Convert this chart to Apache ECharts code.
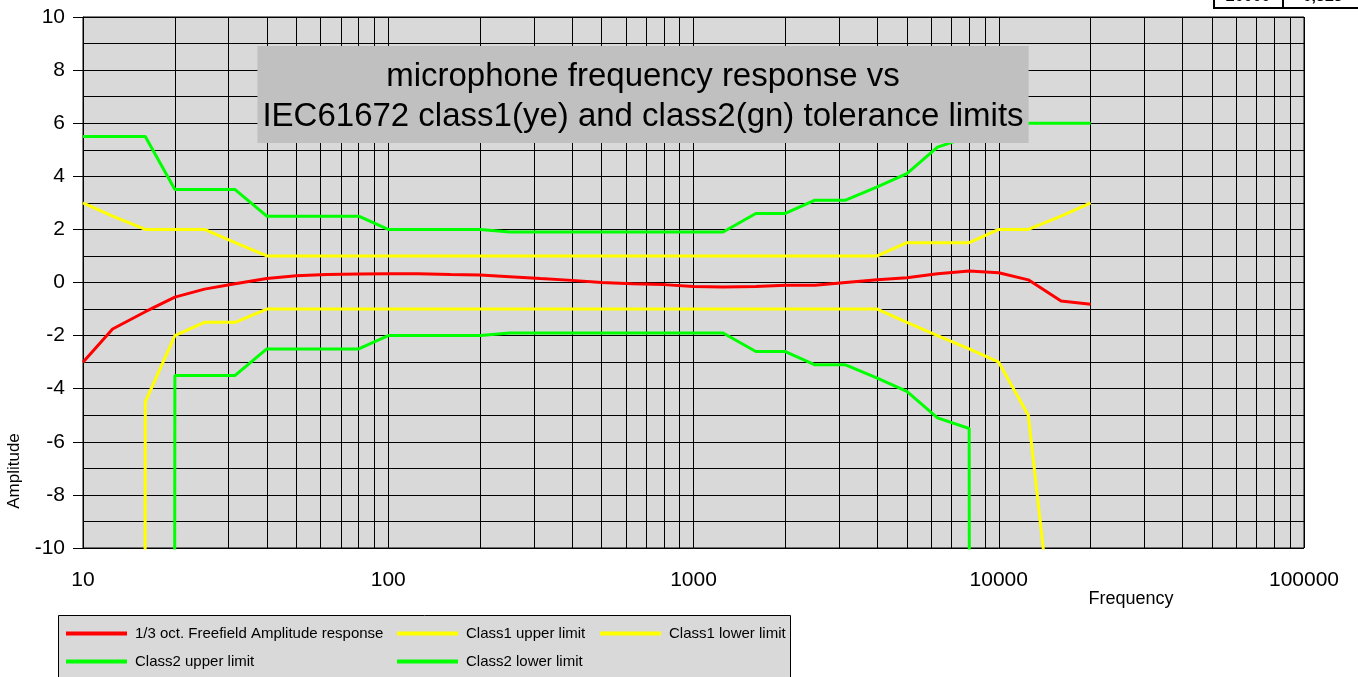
<!DOCTYPE html>
<html>
<head>
<meta charset="utf-8">
<title>microphone frequency response vs IEC61672</title>
<script src="https://cdn.jsdelivr.net/npm/echarts@6.0.0/dist/echarts.min.js"></script>
<style>
  html, body { margin: 0; padding: 0; background: #fff; }
  #main { width: 1358px; height: 677px; }
</style>
</head>
<body>
<div id="main"></div>
<script>
// 1/3 octave centre frequencies (Hz)
var freqs = [10, 12.5, 16, 20, 25, 31.5, 40, 50, 63, 80, 100, 125, 160, 200, 250, 315, 400, 500, 630, 800,
             1000, 1250, 1600, 2000, 2500, 3150, 4000, 5000, 6300, 8000, 10000, 12500, 16000, 20000];

// measured response (dB)
var response = [-3.0, -1.75, -1.1, -0.55, -0.25, -0.05, 0.15, 0.25, 0.3, 0.32, 0.33, 0.33, 0.3, 0.28, 0.22, 0.15, 0.08, 0.0, -0.05, -0.08,
                -0.15, -0.17, -0.15, -0.1, -0.1, 0.0, 0.1, 0.18, 0.33, 0.43, 0.37, 0.1, -0.7, -0.823];

// tolerance limits, -1000 stands for "minus infinity"
var class1Upper = [3, 2.5, 2, 2, 2, 1.5, 1, 1, 1, 1, 1, 1, 1, 1, 1, 1, 1, 1, 1, 1,
                   1, 1, 1, 1, 1, 1, 1, 1.5, 1.5, 1.5, 2, 2, 2.5, 3];
var class1Lower = [-1000, -1000, -4.5, -2, -1.5, -1.5, -1, -1, -1, -1, -1, -1, -1, -1, -1, -1, -1, -1, -1, -1,
                   -1, -1, -1, -1, -1, -1, -1, -1.5, -2, -2.5, -3, -5, -16, -1000];
var class2Upper = [5.5, 5.5, 5.5, 3.5, 3.5, 3.5, 2.5, 2.5, 2.5, 2.5, 2, 2, 2, 2, 1.9, 1.9, 1.9, 1.9, 1.9, 1.9,
                   1.9, 1.9, 2.6, 2.6, 3.1, 3.1, 3.6, 4.1, 5.1, 5.5, 6, 6, 6, 6];
var class2Lower = [-1000, -1000, -1000, -3.5, -3.5, -3.5, -2.5, -2.5, -2.5, -2.5, -2, -2, -2, -2, -1.9, -1.9, -1.9, -1.9, -1.9, -1.9,
                   -1.9, -1.9, -2.6, -2.6, -3.1, -3.1, -3.6, -4.1, -5.1, -5.5, -1000, -1000, -1000, -1000];

var xLabels = [10, 100, 1000, 10000, 100000];

var seriesNames = ['1/3 oct. Freefield Amplitude response', 'Class1 upper limit', 'Class1 lower limit',
                   'Class2 upper limit', 'Class2 lower limit'];

// log grid: 10,20,...,90,100,200,...
var logGrid = [];
for (var d = 10; d < 100000; d *= 10) {
    for (var k = 1; k < 10; k++) logGrid.push(k * d);
}
logGrid.push(100000);

var font = 'Liberation Sans, Arial, sans-serif';

function pairs(vals) {
    var out = [];
    for (var i = 0; i < freqs.length; i++) out.push([freqs[i], vals[i]]);
    return out;
}

function mkSeries(name, vals, color) {
    return {
        name: name,
        type: 'line',
        data: pairs(vals),
        symbol: 'none',
        clip: true,
        lineStyle: { color: color, width: 3 },
        itemStyle: { color: color },
        z: 3
    };
}

// one legend per entry so the two rows line up in columns like the original
function mkLegend(name, left, top) {
    return {
        left: left, top: top, padding: 0,
        icon: 'rect', itemWidth: 61, itemHeight: 4,
        textStyle: { fontFamily: font, fontSize: 15, color: '#000', padding: [0, 0, 0, 3] },
        data: [name]
    };
}

var chart = echarts.init(document.getElementById('main'));

var option = {
    animation: false,
    title: {
        text: 'microphone frequency response vs\nIEC61672 class1(ye) and class2(gn) tolerance limits',
        left: 638,
        top: 46,
        textAlign: 'center',
        backgroundColor: '#c0c0c0',
        padding: [11, 5, 6, 5],
        textStyle: { fontFamily: font, fontSize: 33, fontWeight: 'normal', lineHeight: 40, color: '#000' }
    },
    grid: {
        left: 83, right: 54, top: 17, bottom: 129,
        show: true,
        backgroundColor: '#d9d9d9',
        borderColor: '#000',
        borderWidth: 1
    },
    legend: [
        mkLegend(seriesNames[0], 66, 626),
        mkLegend(seriesNames[1], 397, 626),
        mkLegend(seriesNames[2], 600, 626),
        mkLegend(seriesNames[3], 66, 654),
        mkLegend(seriesNames[4], 397, 654)
    ],
    xAxis: {
        type: 'log',
        logBase: 10,
        min: 10,
        max: 100000,
        axisLine: { show: true, lineStyle: { color: '#000', width: 1 } },
        axisTick: { show: true, customValues: logGrid, length: 8, lineStyle: { color: '#000' } },
        axisLabel: { customValues: xLabels, fontFamily: font, fontSize: 21, color: '#000', margin: 22,
                     formatter: function (v) { return String(v); } },
        splitLine: { show: true, lineStyle: { color: '#000', width: 1 } }
    },
    yAxis: {
        type: 'value',
        min: -10,
        max: 10,
        interval: 2,
        axisLine: { show: true, lineStyle: { color: '#000', width: 1 } },
        axisTick: { show: true, length: 10, lineStyle: { color: '#000' } },
        axisLabel: { fontFamily: font, fontSize: 21, color: '#000', margin: 18 },
        splitLine: { show: true, lineStyle: { color: '#000', width: 1 } },
        minorTick: { show: false, splitNumber: 2 },
        minorSplitLine: { show: true, lineStyle: { color: '#000', width: 1 } }
    },
    graphic: [
        { type: 'rect', z: 1, shape: { x: 58.5, y: 615.5, width: 732, height: 80 },
          style: { fill: '#d9d9d9', stroke: '#000', lineWidth: 1 } },
        { type: 'text', x: 1131, y: 599, z: 5,
          style: { text: 'Frequency', font: '18px ' + font, fill: '#000', align: 'center', verticalAlign: 'middle' } },
        { type: 'text', x: 14, y: 471, rotation: Math.PI / 2, z: 5,
          style: { text: 'Amplitude', font: '17px ' + font, fill: '#000', align: 'center', verticalAlign: 'middle' } },
        { type: 'rect', z: 5, shape: { x: 1214, y: -30, width: 69, height: 38 },
          style: { fill: '#fff', stroke: '#000', lineWidth: 2 } },
        { type: 'rect', z: 5, shape: { x: 1283, y: -30, width: 80, height: 38 },
          style: { fill: '#fff', stroke: '#000', lineWidth: 2 } },
        { type: 'text', x: 1248, y: 5, z: 6,
          style: { text: '20000', font: 'bold 16px ' + font, fill: '#000', align: 'center', verticalAlign: 'bottom' } },
        { type: 'text', x: 1320, y: 5, z: 6,
          style: { text: '-0,823', font: 'bold 16px ' + font, fill: '#000', align: 'center', verticalAlign: 'bottom' } }
    ],
    series: [
        mkSeries(seriesNames[0], response, '#ff0000'),
        mkSeries(seriesNames[1], class1Upper, '#ffff00'),
        mkSeries(seriesNames[2], class1Lower, '#ffff00'),
        mkSeries(seriesNames[3], class2Upper, '#00ff00'),
        mkSeries(seriesNames[4], class2Lower, '#00ff00')
    ]
};

chart.setOption(option);
</script>
</body>
</html>
